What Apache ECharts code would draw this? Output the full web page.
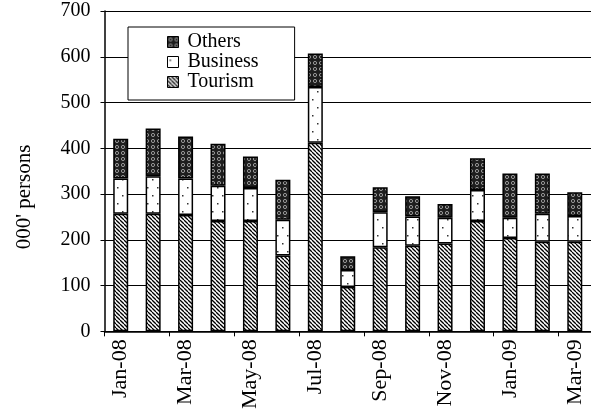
<!DOCTYPE html>
<html>
<head>
<meta charset="utf-8">
<script src="https://cdn.jsdelivr.net/npm/echarts@6/dist/echarts.min.js"></script>
<style>
html,body{margin:0;padding:0;background:#fff;}
#chart{width:591px;height:412px;}
</style>
</head>
<body>
<div id="chart"></div>
<script>
const categories = ['Jan-08','Feb-08','Mar-08','Apr-08','May-08','Jun-08','Jul-08','Aug-08','Sep-08','Oct-08','Nov-08','Dec-08','Jan-09','Feb-09','Mar-09'];
const tourism  = [257,257,254,241,241,166,412,97,184,187,192,241,204,196,196];
const business = [77,82,80,77,72,78,122,37,76,64,56,68,44,61,56];
const others   = [87,104,92,92,69,87,73,30,55,44,30,69,97,88,52];
const yTicks = [0,100,200,300,400,500,600,700];
const yTitle = "000' persons";

function patTourism(){
  const s = 4, c = document.createElement('canvas');
  c.width = s; c.height = s;
  const g = c.getContext('2d');
  g.fillStyle = '#fff'; g.fillRect(0,0,s,s);
  g.strokeStyle = '#000'; g.lineWidth = 1.3;
  for (const x0 of [-s, 0, s]) { g.beginPath(); g.moveTo(x0, 0); g.lineTo(x0 + s, s); g.stroke(); }
  return c;
}
function patBusiness(){
  const c = document.createElement('canvas');
  c.width = 10; c.height = 16;
  const g = c.getContext('2d');
  g.fillStyle = '#fff'; g.fillRect(0,0,10,16);
  g.fillStyle = '#333';
  g.fillRect(2,3,1.5,1.5);
  g.fillRect(7,11,1.5,1.5);
  return c;
}
function patOthers(){
  const c = document.createElement('canvas');
  c.width = 6; c.height = 6;
  const g = c.getContext('2d');
  g.fillStyle = '#1e1e1e'; g.fillRect(0,0,6,6);
  g.strokeStyle = '#999'; g.lineWidth = 1;
  g.beginPath(); g.arc(3,3,1.6,0,Math.PI*2); g.stroke();
  return c;
}

const font = 'Liberation Serif, Times New Roman, serif';
const chart = echarts.init(document.getElementById('chart'), null, {renderer:'canvas'});
const bs = {borderColor:'#000', borderWidth:1.5};
chart.setOption({
  animation:false,
  backgroundColor:'#fff',
  textStyle:{fontFamily:font, color:'#000'},
  grid:{left:104.5, top:11, width:488.5, height:321, containLabel:false},
  legend:{
    data:['Others','Business','Tourism'],
    orient:'vertical',
    left:128, top:27,
    backgroundColor:'#fff', borderColor:'#000', borderWidth:1,
    padding:[5,36,8,39],
    icon:'rect',
    itemWidth:11, itemHeight:11, itemGap:0,
    itemStyle:{borderColor:'#000', borderWidth:1},
    textStyle:{fontFamily:font, fontSize:20, color:'#000', padding:[0,0,0,4], lineHeight:20}
  },
  graphic:[{
    type:'text', x:24, y:197, rotation:Math.PI/2,
    style:{text:yTitle, fontFamily:font, fontSize:21, fill:'#000', align:'center', verticalAlign:'middle'}
  }],
  xAxis:{
    type:'category', data:categories,
    axisLine:{lineStyle:{color:'#000', width:1.5}},
    axisTick:{show:true, interval:1, length:5, lineStyle:{color:'#000'}},
    axisLabel:{interval:1, rotate:90, margin:8, fontFamily:font, fontSize:22, color:'#000'},
    splitLine:{show:false}
  },
  yAxis:{
    type:'value', min:0, max:700, interval:100,
    axisLine:{show:true, lineStyle:{color:'#000', width:1.5}},
    axisTick:{show:true, length:4, lineStyle:{color:'#000'}},
    axisLabel:{margin:14, fontFamily:font, fontSize:20, color:'#000',
      formatter: v => yTicks.includes(v) ? String(v) : ''},
    splitLine:{show:true, lineStyle:{color:'#000', width:1}}
  },
  series:[
    {name:'Tourism', type:'bar', stack:'a', data:tourism, barWidth:15,
      itemStyle:Object.assign({color:{image:patTourism(), repeat:'repeat'}}, bs)},
    {name:'Business', type:'bar', stack:'a', data:business, barWidth:15,
      itemStyle:Object.assign({color:{image:patBusiness(), repeat:'repeat'}}, bs)},
    {name:'Others', type:'bar', stack:'a', data:others, barWidth:15,
      itemStyle:Object.assign({color:{image:patOthers(), repeat:'repeat'}}, bs)}
  ]
});
</script>
</body>
</html>
